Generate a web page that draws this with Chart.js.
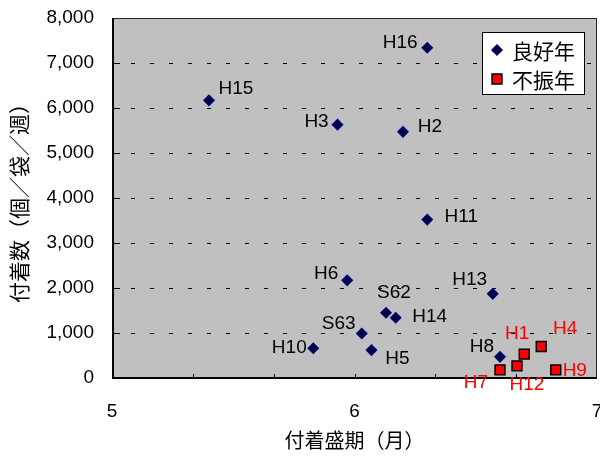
<!DOCTYPE html>
<html>
<head>
<meta charset="utf-8">
<script src="https://cdn.jsdelivr.net/npm/chart.js@4"></script>
<style>
  html, body { margin: 0; padding: 0; background: #fff; }
  #wrap { width: 600px; height: 457px; }
</style>
</head>
<body>
<div id="wrap"><canvas id="chart-fuchaku"></canvas></div>
<script>
// 良好年
const goodYears = ["H16", "H15", "H3", "H2", "H11", "H6", "H13", "S62", "H14", "S63", "H10", "H5", "H8"];
const goodMonth = [6.30, 5.40, 5.93, 6.20, 6.30, 5.97, 6.57, 6.13, 6.17, 6.03, 5.83, 6.07, 6.60];
const goodCount = [7340, 6170, 5630, 5470, 3520, 2170, 1870, 1450, 1340, 990, 660, 620, 470];

// 不振年
const poorYears = ["H1", "H4", "H12", "H7", "H9"];
const poorMonth = [6.70, 6.77, 6.67, 6.60, 6.83];
const poorCount = [530, 700, 270, 180, 180];

const seriesNames = ["良好年", "不振年"];
const xTitle = "付着盛期（月）";
const yTitle = "付着数（個／袋／週）";

// label offsets from the point (px), same order as the year arrays
const goodOffsets = [[-27, -5], [27, -12], [-21, -3], [27, -5], [34, -3], [-21, -7], [-23, -14],
    [8, -20], [34, -1], [-23, -10], [-24, -1], [26, 9], [-18, -10]];
const poorOffsets = [[-7, -20], [24, -18], [10, 19], [-24, 13], [19, 1]];

const latin = "'Liberation Sans', Arial, sans-serif";
const cjk = "'Noto Sans CJK JP', sans-serif";

const toPoints = (xs, ys) => xs.map((x, i) => ({ x: x, y: ys[i] }));

// no automatic padding for overflowing tick labels
const noAutoPad = (scale) => {
    scale.paddingLeft = 0;
    scale.paddingRight = 0;
    scale.paddingTop = 0;
    scale.paddingBottom = 0;
};

// gray plot area + frame + inner tick marks + point labels + legend
const plotFrame = {
    id: "plotFrame",
    beforeDraw(chart) {
        const { ctx, chartArea: a } = chart;
        ctx.save();
        ctx.fillStyle = "#c0c0c0";
        ctx.fillRect(a.left, a.top, a.right - a.left, a.bottom - a.top);
        ctx.restore();
    },
    beforeDatasetsDraw(chart) {
        const { ctx, chartArea: a, scales } = chart;
        ctx.save();
        ctx.strokeStyle = "#000";
        ctx.lineWidth = 1;
        ctx.beginPath();
        for (let i = 1; i < 6; i++) {
            const px = Math.round(scales.x.getPixelForValue(5 + i / 3)) + 0.5;
            ctx.moveTo(px, a.bottom);
            ctx.lineTo(px, a.bottom - 4);
        }
        for (let v = 1000; v < 8000; v += 1000) {
            const py = Math.round(scales.y.getPixelForValue(v)) + 0.5;
            ctx.moveTo(a.left, py);
            ctx.lineTo(a.left + 8, py);
        }
        ctx.stroke();
        ctx.strokeStyle = "#222";
        ctx.strokeRect(a.left + 0.5, a.top + 0.5, a.right - a.left - 1, a.bottom - a.top);
        ctx.lineWidth = 2;
        ctx.strokeStyle = "#000";
        ctx.beginPath();
        ctx.moveTo(a.left + 1, a.top);
        ctx.lineTo(a.left + 1, a.bottom);
        ctx.lineTo(a.right, a.bottom);
        ctx.stroke();
        ctx.restore();
    },
    afterDatasetsDraw(chart) {
        const { ctx } = chart;
        const names = [goodYears, poorYears];
        const offs = [goodOffsets, poorOffsets];
        const colors = ["#000", "#ff0000"];
        ctx.save();
        ctx.font = "19px " + latin;
        ctx.textAlign = "center";
        ctx.textBaseline = "middle";
        chart.data.datasets.forEach((ds, d) => {
            const meta = chart.getDatasetMeta(d);
            ctx.fillStyle = colors[d];
            meta.data.forEach((pt, i) => {
                ctx.fillText(names[d][i], pt.x + offs[d][i][0], pt.y + offs[d][i][1]);
            });
        });

        // legend box
        const lx = 482, ly = 32, lw = 102, lh = 62;
        ctx.fillStyle = "#fff";
        ctx.fillRect(lx, ly, lw, lh);
        ctx.strokeStyle = "#000";
        ctx.lineWidth = 1;
        ctx.strokeRect(lx + 0.5, ly + 0.5, lw, lh);
        ctx.font = "21px " + cjk;
        ctx.textAlign = "left";
        chart.data.datasets.forEach((ds, d) => {
            const cy = ly + 18 + d * 29;
            ctx.fillStyle = ds.backgroundColor;
            ctx.strokeStyle = ds.borderColor;
            ctx.lineWidth = ds.borderWidth;
            Chart.helpers.drawPoint(ctx, {
                pointStyle: ds.pointStyle, radius: ds.pointRadius, borderWidth: ds.borderWidth
            }, lx + 15, cy);
            ctx.fillStyle = "#000";
            ctx.fillText(ds.label, lx + 30, cy + 1);
        });
        ctx.restore();
    }
};

const dataFuchaku = {
    datasets: [
        {
            label: seriesNames[0],
            data: toPoints(goodMonth, goodCount),
            pointStyle: "rectRot",
            pointRadius: 5,
            borderWidth: 1.5,
            backgroundColor: "#000033",
            borderColor: "#000080",
        },
        {
            label: seriesNames[1],
            data: toPoints(poorMonth, poorCount),
            pointStyle: "rect",
            pointRadius: 7,
            borderWidth: 1.5,
            backgroundColor: "#ff0000",
            borderColor: "#000000",
        },
    ],
};

const configFuchaku = {
    type: "scatter",
    data: dataFuchaku,
    options: {
        responsive: true,
        maintainAspectRatio: false,
        animation: false,
        clip: false,
        layout: { autoPadding: false, padding: { top: 18, right: 3, left: 0, bottom: 0 } },
        plugins: {
            legend: { display: false },
            tooltip: { enabled: false },
        },
        scales: {
            x: {
                type: "linear",
                min: 5,
                max: 7,
                ticks: {
                    stepSize: 1,
                    padding: 22,
                    color: "#000",
                    font: { family: latin, size: 19 },
                },
                grid: { display: false, drawTicks: false },
                border: { display: false },
                title: {
                    display: true,
                    text: xTitle,
                    color: "#000",
                    font: { family: cjk, size: 20 },
                    padding: { top: 0, bottom: 5 },
                },
                afterFit(scale) { scale.height = 79; noAutoPad(scale); },
            },
            y: {
                min: 0,
                max: 8000,
                ticks: {
                    stepSize: 1000,
                    padding: 18,
                    color: "#000",
                    font: { family: latin, size: 19 },
                    callback: (v) => v.toLocaleString("en-US"),
                },
                grid: { color: "#000", lineWidth: 1, drawTicks: false },
                border: { display: false, dash: [4, 15] },
                title: {
                    display: true,
                    text: yTitle,
                    color: "#000",
                    font: { family: cjk, size: 21 },
                    padding: { top: 6, bottom: 0 },
                },
                afterFit(scale) { scale.width = 112; noAutoPad(scale); },
            },
        },
    },
    plugins: [plotFrame],
};

new Chart(document.getElementById("chart-fuchaku"), configFuchaku);
</script>
</body>
</html>
